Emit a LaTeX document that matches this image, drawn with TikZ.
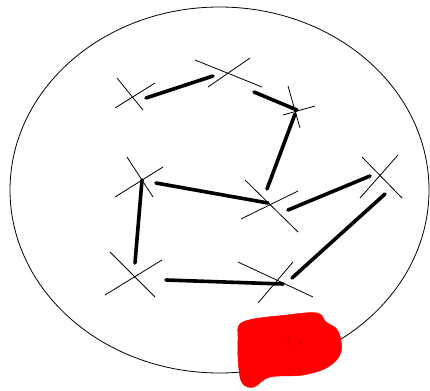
\documentclass[tikz,border=0pt]{standalone}
\begin{document}
\begin{tikzpicture}[x=1pt,y=-1pt,
  thin line/.style={line width=0.8pt, black},
  bond/.style={line width=3.6pt, black, line cap=round},
  blob/.style={fill=red, draw=red, line width=0.5pt}]
\useasboundingbox (0,0) rectangle (430,390);
% outer ellipse
\draw[thin line] (219.5,190) ellipse [x radius=209.5, y radius=183];
% crosses
\draw[thin line] (117,78) -- (143,110) (115,108) -- (155,83);
\draw[thin line] (195,60) -- (262,87) (208,87) -- (250,58);
\draw[thin line] (288,86) -- (300,128) (283,115) -- (315,106);
\draw[thin line] (127,157) -- (153,197) (115,197) -- (163,167);
\draw[thin line] (245,180) -- (298,232) (241,219) -- (298,191);
\draw[thin line] (362,157) -- (402,198) (360,198) -- (398,155);
\draw[thin line] (110,252) -- (155,297) (105,295) -- (162,260);
\draw[thin line] (238,262) -- (313,297) (258,303) -- (293,262);
% bond endpoints
\coordinate (a1) at (146,98);  \coordinate (a2) at (213,76);
\coordinate (b1) at (254,92);  \coordinate (b2) at (297,110);
\coordinate (c1) at (295,114); \coordinate (c2) at (267,189);
\coordinate (d1) at (156,183); \coordinate (d2) at (268,203);
\coordinate (e1) at (288,210); \coordinate (e2) at (370,176);
\coordinate (f1) at (142,180); \coordinate (f2) at (135,263);
\coordinate (g1) at (166,280); \coordinate (g2) at (283,284);
\coordinate (h1) at (292,278); \coordinate (h2) at (385,194);
\draw[bond] (a1) -- (a2);
\draw[bond] (b1) -- (b2);
\draw[bond] (c1) -- (c2);
\draw[bond] (d1) -- (d2);
\draw[bond] (e1) -- (e2);
\draw[bond] (f1) -- (f2);
\draw[bond] (g1) -- (g2);
\draw[bond] (h1) -- (h2);
% red blob
\draw[blob] plot[smooth cycle, tension=0.6] coordinates {
  (243,322) (287,315) (317,313) (326,322) (338,331) (341,352)
  (328,367) (303,375) (270,377) (254,387) (243,384) (239,370) (238,340)};
\fill[black] (288,339) circle (0.6) (300,342) circle (0.6) (290,348) circle (0.6);
\end{tikzpicture}
\end{document}
